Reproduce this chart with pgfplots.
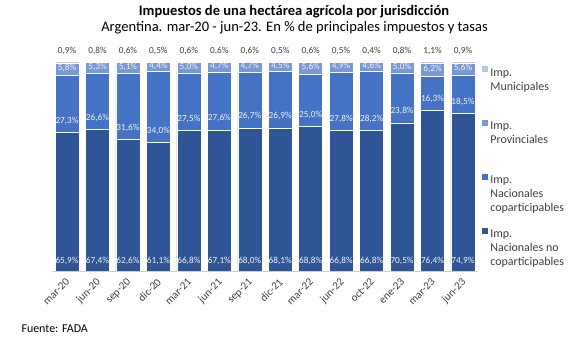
\documentclass[border=0pt]{standalone}
\usepackage{pgfplots}
\pgfplotsset{compat=1.18}
\usepackage{pgfplotstable}
\usepackage{fontspec}
\setmainfont{Carlito}
\definecolor{cnonc}{HTML}{2F5597}
\definecolor{ccop}{HTML}{4472C4}
\definecolor{cprov}{HTML}{7898D6}
\definecolor{cmun}{HTML}{B4C7E7}
\definecolor{txt}{HTML}{404040}
\pgfplotstableread{
x a b c d
0 65.9 27.3 5.8 0.9
1 67.4 26.6 5.3 0.8
2 62.6 31.6 5.1 0.6
3 61.1 34.0 4.4 0.5
4 66.8 27.5 5.0 0.6
5 67.1 27.6 4.7 0.6
6 68.0 26.7 4.7 0.6
7 68.1 26.9 4.5 0.5
8 68.8 25.0 5.6 0.6
9 66.8 27.8 4.9 0.5
10 66.8 28.2 4.6 0.4
11 70.5 23.8 5.0 0.8
12 76.4 16.3 6.2 1.1
13 74.9 18.5 5.6 0.9
}\data
\pgfplotsset{
  common/.style={
    scale only axis, width=426.4bp, height=210bp,
    xmin=-0.5, xmax=13.5, ymin=0, ymax=100,
    at={(51.8bp,67bp)}, anchor=south west,
  },
  lbl/.style={draw=none, mark=none,
    point meta=explicit,
    nodes near coords={\pgfmathprintnumber[fixed,fixed zerofill,precision=1,use comma,assume math mode=true]{\pgfplotspointmeta}\%},
    every node near coord/.style={anchor=center, font=\fontsize{9.3}{10}\selectfont, text=#1, inner sep=0pt}},
}
\begin{document}
\begin{tikzpicture}
\useasboundingbox (0,0) rectangle (588bp,338bp);
\begin{axis}[common,
  ybar stacked, bar width=24bp,
  axis y line=none, axis x line*=bottom,
  x axis line style={draw=black!20},
  xtick={0,...,13},
  xticklabels={mar-20,jun-20,sep-20,dic-20,mar-21,jun-21,sep-21,dic-21,mar-22,jun-22,oct-22,ene-23,mar-23,jun-23},
  xticklabel style={xshift=-2bp, yshift=-5bp, rotate=45, anchor=north east, font=\fontsize{11}{12}\selectfont, text=txt, inner sep=1pt},
  major tick length=0pt,
  legend style={at={(1.0,0.99)}, anchor=north west, draw=none, fill=none,
    row sep=12bp, font=\fontsize{12}{14}\selectfont, text=txt,
    nodes={align=left, inner sep=1.5bp}},
  legend cell align=left,
  reverse legend,
  legend image code/.code={\fill[#1] (0bp,14.5bp) rectangle (7bp,21.5bp);},
]
\addplot[fill=cnonc, draw=white, line width=0.5bp] table[x=x,y=a]{\data};
\addlegendentry{Imp.\\Nacionales no\\coparticipables}
\addplot[fill=ccop, draw=white, line width=0.5bp] table[x=x,y=b]{\data};
\addlegendentry{Imp.\\Nacionales\\coparticipables}
\addplot[fill=cprov, draw=white, line width=0.5bp] table[x=x,y=c]{\data};
\addlegendentry{Imp.\\Provinciales\\\mbox{}}
\addplot[fill=cmun, draw=white, line width=0.5bp] table[x=x,y=d]{\data};
\addlegendentry{Imp.\\Municipales\\\mbox{}}
\end{axis}
\begin{axis}[common, hide axis, clip=false]
\addplot[lbl=white!95!black] table[x=x, y expr=4.8, meta=a]{\data};
\addplot[lbl=white!95!black] table[x=x, y expr=\thisrow{a}+5.7, meta=b]{\data};
\addplot[lbl=white!95!black] table[x=x, y expr=\thisrow{a}+\thisrow{b}+\thisrow{c}/2+0.4, meta=c]{\data};
\addplot[lbl=txt] table[x=x, y expr=105, meta=d]{\data};
\end{axis}
\node[font=\bfseries\fontsize{14.6}{16}\selectfont] at (294bp,326bp) {Impuestos de una hectárea agrícola por jurisdicción};
\node[font=\fontsize{14.6}{16}\selectfont] at (294.5bp,310bp) {Argentina. mar-20 - jun-23. En \% de principales impuestos y tasas};
\node[anchor=west, font=\fontsize{12}{13}\selectfont] at (18bp,9bp) {Fuente: FADA};
\end{tikzpicture}
\end{document}
